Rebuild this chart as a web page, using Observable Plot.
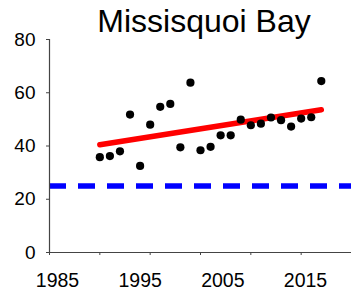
<!DOCTYPE html>
<html>
<head>
<meta charset="utf-8">
<script src="https://cdn.jsdelivr.net/npm/d3@7"></script>
<script src="https://cdn.jsdelivr.net/npm/@observablehq/plot@0.6"></script>
<style>
  html, body { margin: 0; padding: 0; background: #fff; }
  #wrap { position: relative; width: 351px; height: 296px; overflow: hidden; }
  #title { position: absolute; left: 0; top: 5px; width: 351px; box-sizing: border-box; padding-left: 57px;
           text-align: center; font-family: "Liberation Sans", Arial, sans-serif; font-size: 32px; line-height: 32px; color: #000; }
  #main, #labels { position: absolute; left: 0; }
  #main { top: 0; }
  #labels { top: 252px; }
</style>
</head>
<body>
<div id="wrap">
  <div id="main"></div>
  <div id="labels"></div>
  <div id="title">Missisquoi Bay</div>
</div>
<script>
// Data (evenly spaced annual points)
const years = [1990,1991,1992,1993,1994,1995,1996,1997,1998,1999,2000,2001,2002,2003,2004,2005,2006,2007,2008,2009,2010,2011,2012];
const values = [35.8,36.2,38.0,51.8,32.5,48.0,54.7,55.8,39.5,63.8,38.4,39.7,44.0,44.0,49.9,47.8,48.4,50.7,49.7,47.3,50.3,50.8,64.4];
const target = [25];
const yTicks = [0,20,40,60,80];
const xTickMarks = [1985,1990,1995,2000,2005,2010,2015];
const xTickLabels = [1985,1995,2005,2015];

const data = years.map((year, i) => ({year, value: values[i]}));

const main = Plot.plot({
  width: 351,
  height: 296,
  marginLeft: 49,
  marginRight: 0,
  marginTop: 39,
  marginBottom: 44,
  x: {domain: [1985, 2015]},
  y: {domain: [0, 80]},
  style: {fontFamily: "'Liberation Sans', Arial, sans-serif", fontSize: "19px", color: "#000", background: "transparent", overflow: "visible"},
  marks: [
    Plot.ruleY(target, {stroke: "#0000ff", strokeWidth: 5.5, strokeDasharray: "17,12"}),
    Plot.linearRegressionY(data, {x: "year", y: "value", stroke: "#ff0000", strokeWidth: 5.5, ci: 0}),
    Plot.dot(data, {x: "year", y: "value", r: 4.1, fill: "#000", stroke: "none"}),
    Plot.axisY({ticks: yTicks, tickSize: 3, tickPadding: 11, stroke: "#444", tickFormat: d => String(d), label: null}),
    Plot.axisX({ticks: xTickMarks, tickSize: 3, stroke: "#444", tickFormat: () => "", label: null}),
    Plot.ruleX([1985], {stroke: "#444", strokeWidth: 1.2}),
    Plot.ruleY([0], {stroke: "#444", strokeWidth: 1.2})
  ]
});
document.getElementById("main").appendChild(main);

const labels = Plot.plot({
  width: 351,
  height: 44,
  marginTop: 0,
  marginBottom: 30,
  marginLeft: 0,
  marginRight: 0,
  x: {domain: [1985, 2015], range: [57, 305]},
  style: {fontFamily: "'Liberation Sans', Arial, sans-serif", fontSize: "19.5px", color: "#000", background: "transparent", overflow: "visible"},
  marks: [
    Plot.axisX({ticks: xTickLabels, tickSize: 0, tickPadding: 7, tickFormat: d => String(d), label: null})
  ]
});
document.getElementById("labels").appendChild(labels);
</script>
</body>
</html>
